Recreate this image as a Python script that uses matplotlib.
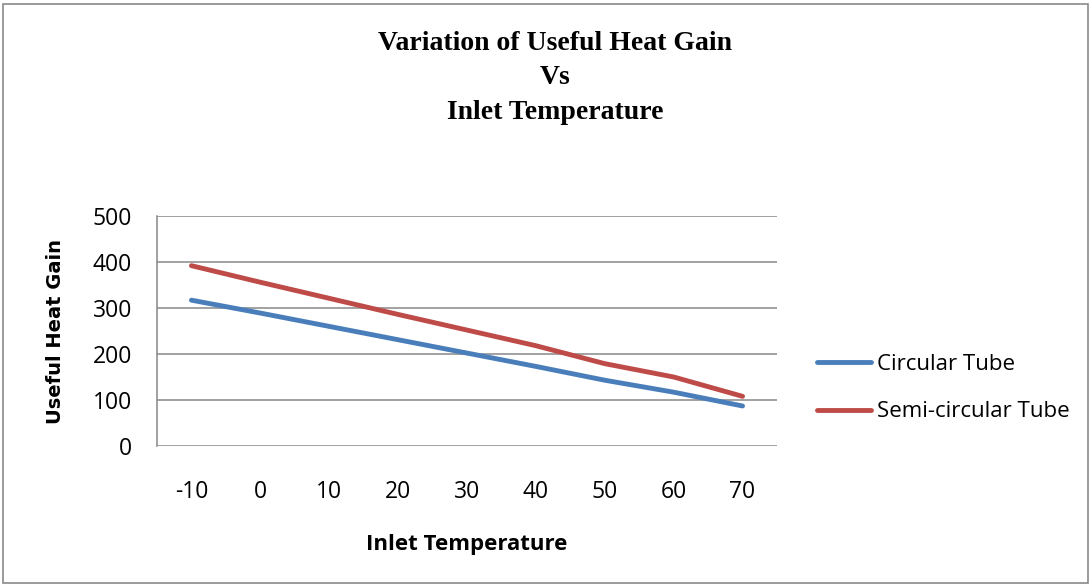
import numpy as np
import matplotlib
matplotlib.use('Agg')
import matplotlib.pyplot as plt
from matplotlib.patches import Rectangle

# Dati
temperatures = ['-10', '0', '10', '20', '30', '40', '50', '60', '70']
circular_tube = [317, 289, 260, 231, 202, 173, 143, 117, 87]
semi_circular_tube = [392, 356, 321, 286, 252, 218, 179, 150, 108]
title_lines = ['Variation of Useful Heat Gain', 'Vs', 'Inlet Temperature']

W, H = 1092, 585
fig = plt.figure(figsize=(W / 100, H / 100), dpi=100)
fig.patches.append(Rectangle((3 / W, 2 / H), (W - 7) / W, (H - 6) / H,
                             transform=fig.transFigure, fill=False,
                             edgecolor='#8a8a8a', linewidth=1.2))

# area del grafico (pixel: x 157-777, y 216-446)
ax = fig.add_axes([157 / W, (H - 446) / H, 620 / W, 230 / H])
x = np.arange(len(temperatures))
ax.plot(x, circular_tube, color='#4A7EBB', linewidth=3.5, solid_capstyle='round',
        label='Circular Tube')
ax.plot(x, semi_circular_tube, color='#BE4B48', linewidth=3.5, solid_capstyle='round',
        label='Semi-circular Tube')

ax.set_xlim(-0.5, len(temperatures) - 0.5)
ax.set_ylim(0, 500)
ax.set_yticks(range(0, 501, 100))
ax.set_xticks(x)
ax.set_xticklabels(temperatures)
ax.yaxis.grid(True, color='#878787', linewidth=1.1)
ax.set_axisbelow(True)
for side in ['top', 'right', 'bottom']:
    ax.spines[side].set_visible(False)
ax.spines['left'].set_color('#878787')
ax.spines['left'].set_linewidth(1.1)
ax.tick_params(axis='both', length=0, labelsize=16.5, colors='black')
ax.tick_params(axis='x', pad=31)
ax.tick_params(axis='y', pad=18)
for lab in ax.get_xticklabels():
    lab.set_fontfamily('Open Sans')
    lab.set_verticalalignment('center_baseline')
for lab in ax.get_yticklabels():
    lab.set_fontfamily('Open Sans')

ax.set_xlabel('Inlet Temperature', fontsize=16, fontweight='bold', fontfamily='Open Sans')
ax.xaxis.label.set_verticalalignment('center_baseline')
ax.xaxis.set_label_coords(0.5, (446 - 542) / 230)
ax.set_ylabel('Useful Heat Gain', fontsize=14, fontweight='bold', fontfamily='DejaVu Sans')
ax.yaxis.label.set_verticalalignment('center')
ax.yaxis.set_label_coords((55 - 157) / 620, 0.5)

# titolo su tre righe
for line, base_y in zip(title_lines, [49.5, 84, 119]):
    fig.text(555 / W, 1 - base_y / H, line, ha='center', va='baseline',
             fontsize=20, fontweight='bold', fontfamily='Liberation Serif')

leg = ax.legend(loc='center left', bbox_to_anchor=(817 / W, 1 - 388 / H),
                bbox_transform=fig.transFigure, frameon=False,
                handlelength=2.43, handletextpad=0.27, labelspacing=1.2,
                borderpad=0, borderaxespad=0,
                prop={'family': 'Open Sans', 'size': 16})

plt.savefig('out.png', dpi=100)
plt.close()
